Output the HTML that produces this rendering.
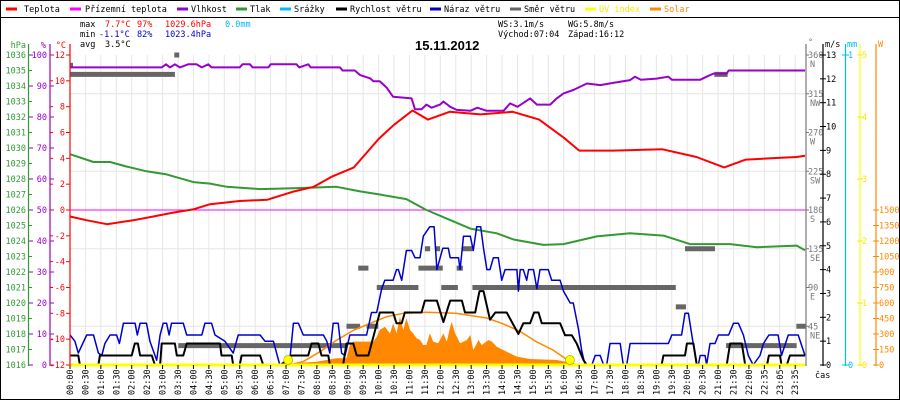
<!DOCTYPE html>
<html><head><meta charset="utf-8">
<style>
html,body{margin:0;padding:0;background:#fff;}
svg{display:block;font-family:"DejaVu Sans Mono","Liberation Mono",monospace;}
text{font-size:8.5px;}
</style></head>
<body>
<svg id="chart" width="900" height="400" viewBox="0 0 900 400" xmlns="http://www.w3.org/2000/svg">
<rect x="0.5" y="0.5" width="899" height="399" fill="#fff" stroke="#000"/>
<line x1="0" y1="17.5" x2="900" y2="17.5" stroke="#000"/>
<g id="legend"></g>
<g>
<text x="80" y="27" fill="#000">max</text>
<text x="105" y="27" fill="#f00">7.7°C</text>
<text x="137" y="27" fill="#f00">97%</text>
<text x="165" y="27" fill="#f00">1029.6hPa</text>
<text x="225" y="27" fill="#00b4ff">0.0mm</text>
<text x="80" y="37" fill="#000">min</text>
<text x="99" y="37" fill="#00c">-1.1°C</text>
<text x="137" y="37" fill="#00c">82%</text>
<text x="165" y="37" fill="#00c">1023.4hPa</text>
<text x="80" y="47" fill="#000">avg</text>
<text x="105" y="47" fill="#000">3.5°C</text>
<text x="498" y="27" fill="#000">WS:3.1m/s</text>
<text x="568" y="27" fill="#000">WG:5.8m/s</text>
<text x="498" y="37" fill="#000">Východ:07:04</text>
<text x="568" y="37" fill="#000">Západ:16:12</text>
</g>
<g id="grid"></g>
<g id="plot"></g>
<g id="axes"></g>
<text x="415" y="50" fill="#000" style="font-size:13px;font-weight:bold;font-family:'Liberation Sans',sans-serif">15.11.2012</text>
</svg>
<script>
// ---- data ----
const xLabels=["00:00","00:30","01:00","01:30","02:00","02:30","03:00","03:30","04:00","04:30","05:00","05:30","06:00","06:30","07:00","07:30","08:00","08:30","09:00","09:30","10:00","10:30","11:00","11:30","12:00","12:30","13:00","13:30","14:00","14:30","15:00","15:30","16:00","16:30","17:00","17:30","18:00","18:30","19:00","19:30","20:00","20:30","21:00","21:30","22:00","22:35","23:05","23:35"];
const tempH=[0,0.55,1.2,2.04,2.7,3.34,3.99,4.54,5.5,6.4,7.2,7.9,8.5,9.2,10.0,10.5,11.1,11.6,12.3,13.3,14.35,15.2,16.0,16.5,17.6,19.2,20.3,21.2,21.9,22.8,23.63,23.9];
const tempV=[-0.5,-0.8,-1.1,-0.8,-0.5,-0.2,0.05,0.45,0.7,0.8,1.4,1.8,2.6,3.3,5.5,6.6,7.7,7.0,7.6,7.4,7.6,7.0,5.6,4.6,4.6,4.7,4.1,3.3,3.9,4.0,4.1,4.2];
const humH=[0,2.97,3.11,3.24,3.4,3.56,3.83,4.1,4.27,4.48,4.59,5.5,5.59,5.83,5.92,6.43,6.5,7.34,7.43,7.72,7.8,8.75,8.83,9.23,9.4,9.72,9.83,10.04,10.26,10.47,11.07,11.18,11.39,11.55,11.72,11.99,12.1,12.32,12.53,12.97,13.2,13.5,14.05,14.26,14.5,14.91,15.13,15.56,15.77,15.99,16.31,16.75,17.18,17.6,18.15,18.31,18.5,19.01,19.39,19.5,20.42,20.63,20.85,21.28,21.34,23.9];
const humV=[96,96,97,96,97,96,97,97,96,97,96,96,97,97,96,96,97,97,96,97,96,96,95,95,93.5,92.5,91.5,91.5,89.5,86.5,86,82.5,82.5,84,83,84,85,83.3,82.3,82,83,82,82,84.4,83.3,86,84,84,86,87.6,88.7,90.8,90.3,91,91.9,93,92,92.4,93,92,92,93,94,94,95,95];
const presH=[0,0.76,1.3,1.84,2.48,3.13,4.0,4.54,5.08,6.16,7.24,8.64,9.4,10.04,10.9,11.55,11.67,12.32,12.97,13.83,14.37,15.34,15.99,17.07,18.15,19.23,20.09,21.39,22.3,23.63,23.9];
const presV=[1029.6,1029.1,1029.1,1028.8,1028.5,1028.3,1027.8,1027.7,1027.5,1027.35,1027.4,1027.5,1027.2,1027.0,1026.7,1026.0,1025.9,1025.35,1024.8,1024.5,1024.1,1023.75,1023.8,1024.3,1024.5,1024.35,1023.8,1023.8,1023.6,1023.7,1023.4];
const speedH=[0,0.27,0.32,0.92,0.97,2.0,2.1,2.2,2.27,2.65,2.75,2.92,2.97,3.4,3.46,3.67,3.78,4.86,4.91,5.24,5.29,5.5,5.56,6.16,6.26,6.86,7.18,7.72,7.83,8.05,8.15,8.37,8.42,8.85,8.96,9.18,9.29,9.67,10.04,10.47,10.58,10.75,10.85,11.39,11.5,11.89,12.1,12.32,12.7,12.8,13.13,13.27,13.4,13.61,13.78,14.15,14.53,14.69,14.91,15.04,15.18,15.29,15.88,16.04,16.26,16.42,16.64,16.75,19.17,19.23,19.93,19.99,20.2,20.31,21.28,21.39,21.77,21.88,22.67,22.73,23.09,23.14,23.31,23.41,23.9];
const speedV=[0.4,0.4,0,0,0.4,0.4,0.9,0.9,0.4,0.4,0,0,0.9,0.9,0.4,0.4,0.9,0.9,0.4,0.4,0,0,0.4,0.4,0,0,0.4,0.4,0.9,0.9,0.4,0.4,0,0,0.9,0.9,0.4,0.4,2.2,2.2,1.75,1.75,2.2,2.2,2.7,2.7,1.8,2.7,2.7,2.2,2.2,3.1,3.1,1.9,2.2,2.2,1.3,1.75,1.75,2.2,2.2,1.75,1.75,1.25,1.25,0.9,0.2,0,0,0.4,0.4,0.9,0.9,0,0,0.9,0.9,0,0,0.4,0.4,0,0,0.4,0.4];
const gustH=[0,0.16,0.27,0.54,0.76,0.92,1.03,1.13,1.3,1.51,1.6,1.73,2.11,2.18,2.27,2.48,2.59,2.81,2.92,3.02,3.13,3.21,3.29,3.67,3.78,4.27,4.37,4.59,4.7,5.02,5.29,5.45,6.16,6.32,6.59,6.8,7.13,7.24,7.4,7.56,8.21,8.32,8.42,8.53,8.69,8.8,8.91,9.07,9.61,9.77,9.94,10.1,10.2,10.47,10.58,10.64,10.75,10.9,11.07,11.18,11.34,11.45,11.66,11.8,11.89,12.08,12.26,12.32,12.59,12.64,12.75,12.97,13.07,13.18,13.31,13.4,13.51,13.61,13.72,13.88,13.99,14.1,14.48,14.53,14.59,14.69,14.8,14.86,15.02,15.13,15.23,15.5,15.61,15.88,15.99,16.21,16.31,16.48,16.58,16.69,16.91,17.02,17.18,17.29,17.39,17.5,17.83,17.93,18.04,18.15,19.39,19.5,19.82,19.93,20.04,20.15,20.31,20.36,20.42,20.58,20.63,20.74,20.9,21.01,21.34,21.5,21.66,21.82,21.98,22.16,22.42,22.55,22.73,23.03,23.14,23.36,23.68,23.9];
const gustV=[1.26,1.0,0.5,1.26,1.26,0.5,0.4,0.9,1.26,1.26,0.9,1.75,1.75,1.26,1.75,1.75,1.0,0.2,1.26,1.75,1.75,1.26,1.75,1.75,1.26,1.26,1.75,1.75,1.26,1.0,0.5,1.26,1.26,1.0,1.0,0,0.3,1.75,1.75,1.26,1.26,1.0,0.5,1.75,1.75,0.5,0.4,1.26,1.26,2.2,2.2,3.2,3.55,3.55,4.0,4.0,3.55,4.8,4.8,4.5,4.5,5.4,5.8,5.8,4.0,4.9,4.9,4.5,4.5,4.0,5.4,5.4,4.8,5.8,5.8,4.9,4.0,4.0,4.5,4.5,3.55,4.0,4.0,3.1,4.0,4.0,3.55,4.0,4.0,3.2,4.0,4.0,3.55,3.55,3.1,2.6,2.6,1.47,0.6,0,0,0.4,0.4,0,0,0.9,0.9,0,0,0.9,0.9,1.26,1.26,2.17,2.17,1.26,0,0,0.4,0.4,0,0.9,0.9,1.26,1.26,1.75,1.75,1.26,0.4,0,0.4,0.9,1.26,1.26,0.4,1.26,1.26,0.4];
const dirStart=[0,0,3.38,3.51,8.96,9.61,9.34,9.94,11.29,11.5,11.83,12.53,12.7,12.03,13.04,19.63,19.93,20.88,21.26,23.62];
const dirEnd=[3.4,0.09,3.54,8.96,9.4,9.99,9.67,11.29,12.08,11.67,11.99,12.73,13.04,12.57,19.63,19.96,20.9,21.31,23.63,24.0];
const dirDeg=[337.5,348,360,22.5,45,45,112.5,90,112.5,135,135,112.5,135,90,90,67.5,135,337.5,22.5,45];
const solarH=[7.07,7.24,7.99,8.64,8.96,9.07,9.18,9.83,9.94,10.04,10.2,10.37,10.47,10.58,10.69,10.8,10.9,11.02,11.12,11.23,11.34,11.45,11.55,11.66,11.77,11.93,12.1,12.21,12.32,12.37,12.48,12.64,12.86,12.97,13.07,13.24,13.34,13.56,13.67,13.83,14.15,14.48,14.91,15.77,16.21,16.42];
const solarV=[0,16,32,65,65,194,226,226,274,339,371,306,403,306,468,339,452,339,306,258,242,194,194,306,226,210,306,226,371,419,306,210,242,290,145,242,194,242,226,177,129,81,58,48,23,0];
const solMaxH=[7.07,7.55,8.1,8.65,9.2,9.72,10.27,10.8,11.56,12.5,13.5,14.0,14.6,15.1,15.65,16.2,16.4];
const solMaxV=[0,32,129,242,339,403,468,500,510,500,455,403,323,226,145,32,0];
const uvH=[0,23.9];
const uvV=[0,0];
const sunH=[7.07,16.2];
const hpaTicks=[1036,1035,1034,1033,1032,1031,1030,1029,1028,1027,1026,1025,1024,1023,1022,1021,1020,1019,1018,1017,1016];
const humTicks=[100,90,80,70,60,50,40,30,20,10,0];
const tempTicks=[12,10,8,6,4,2,0,-2,-4,-6,-8,-10,-12];
const dirTicks=[360,315,270,225,180,135,90,45];
const dirNames=["N","NW","W","SW","S","SE","E","NE"];
const msTicks=[13,12,11,10,9,8,7,6,5,4,3,2,1,0];
const uvTicks=[5,4,3,2,1,0];
const wTicks=[1500,1350,1200,1050,900,750,600,450,300,150,0];

// ---- scales ----
const X0=70, SLOT=15.43, Y0=365, Y1=55, XR=806;
function slotOf(h){
  if(h<=22) return h*2;
  const hs=[22,22.583,23.083,23.583,24.083];
  for(let i=0;i<4;i++){ if(h<=hs[i+1]) return 44+i+(h-hs[i])/(hs[i+1]-hs[i]); }
  return 48;
}
function xH(h){ return Math.min(XR, X0+slotOf(h)*SLOT); }
const yT=t=>210-t*(310/24);
const yP=p=>Y0-(p-1016)*15.5;
const yHum=p=>Y0-p*3.1;
const yW=v=>Y0-v*(310/13);
const yD=d=>Y0-d*(310/360);
const yS=w=>Y0-w*(155/1500);
const yUV=u=>Y0-u*62;

const NS="http://www.w3.org/2000/svg";
function mk(tag,attrs,parent){const e=document.createElementNS(NS,tag);for(const k in attrs)e.setAttribute(k,attrs[k]);parent.appendChild(e);return e;}
const grid=document.getElementById('grid'), plot=document.getElementById('plot'), axes=document.getElementById('axes'), legend=document.getElementById('legend');

// legend
const legItems=[["Teplota","#f00",6,24],["Přízemní teplota","#f0f",70,85],["Vlhkost","#90c",177,191],["Tlak","#393",236,250],["Srážky","#0bf",280,294],["Rychlost větru","#000",336,350],["Náraz větru","#00c",430,444],["Směr větru","#666",510,524],["UV index","#ff0",585,599],["Solar","#f80",650,664]];
legItems.forEach(it=>{
  const l=mk('line',{x1:it[2],y1:9,x2:it[2]+11,y2:9,stroke:it[1],'stroke-width':3},legend);
  
  
  const t=mk('text',{x:it[3],y:12,fill:it[0]==="UV index"?"#ee0":(it[0]==="Solar"?"#f80":"#000")},legend);
  t.textContent=it[0];
  
  
});

// grid
xLabels.forEach((lab,i)=>{
  const x=X0+i*SLOT;
  const g=mk('line',{x1:x,y1:Y1,x2:x,y2:Y0,stroke:'#e6e6e6'},grid);
  
  
  const tk=mk('line',{x1:x,y1:Y0,x2:x,y2:Y0+4,stroke:'#000'},axes);
  
  
  const t=mk('text',{x:0,y:0,transform:`translate(${x+3},${395}) rotate(-90)`,fill:'#000'},axes);
  t.textContent=lab;
  
  
});
[45,135,225,315].forEach(d=>{
  const g=mk('line',{x1:X0,y1:yD(d),x2:XR,y2:yD(d),stroke:'#e6e6e6'},grid);
  
  
});
const zl=mk('line',{x1:X0,y1:yT(0),x2:XR,y2:yT(0),stroke:'#f0f'},grid);



function pts(H,V,fy){return H.map((h,i)=>xH(h).toFixed(1)+","+fy(V[i]).toFixed(1)).join(" ");}

// solar area
const sa=mk('polygon',{points:xH(solarH[0])+","+Y0+" "+pts(solarH,solarV,yS)+" "+xH(solarH[solarH.length-1])+","+Y0,fill:'#f80'},plot);


// direction bars
dirDeg.forEach((d,i)=>{
  const r=mk('rect',{x:xH(dirStart[i]),y:yD(d)-2.5,width:Math.max(3,xH(dirEnd[i])-xH(dirStart[i])),height:5,fill:'#666'},plot);
  
  
});
const series=[
 [solMaxH,solMaxV,yS,'#f80',1.5,'solar-max-line'],
 [presH,presV,yP,'#393',2,'pressure-line'],
 [humH,humV,yHum,'#90c',2,'humidity-line'],
 [tempH,tempV,yT,'#f00',2,'temperature-line'],
 [gustH,gustV,yW,'#00c',1.5,'gust-line'],
 [speedH,speedV,yW,'#000',2,'wind-speed-line'],
 [uvH,uvV,yUV,'#ff0',3,'uv-line']
];
series.forEach(s=>{
  const p=mk('polyline',{points:pts(s[0],s[1],s[2]),fill:'none',stroke:s[3],'stroke-width':s[4],'stroke-linejoin':'round'},plot);
  
  
});
sunH.forEach(h=>{
  const c=mk('circle',{cx:xH(h),cy:Y0-5,r:4.5,fill:'#ff0',stroke:'#aa0','stroke-width':0.7},plot);
  
  
});

// axes
function axis(x,color,name){const l=mk('line',{x1:x,y1:44,x2:x,y2:Y0+1,stroke:color,'stroke-width':1.2},axes);}
function lab(txt,x,y,color,anchor,name){const t=mk('text',{x:x,y:y,fill:color,'text-anchor':anchor||'start'},axes);t.textContent=txt;return t;}
function tick(x1,x2,y,color){const l=mk('line',{x1:x1,y1:y,x2:x2,y2:y,stroke:color},axes);}
axis(28.5,'#393','pressure-axis'); axis(50,'#90c','humidity-axis'); axis(70,'#f00','temp-axis');
axis(806,'#777','direction-axis'); axis(823,'#000','wind-axis'); axis(845.5,'#0bf','rain-axis'); axis(860,'#ff0','uv-axis'); axis(876,'#f80','solar-axis');
lab('hPa',26,48,'#393','end','pressure-axis-title'); lab('%',46,48,'#90c','end','humidity-axis-title'); lab('°C',66,48,'#f00','end','temp-axis-title');
hpaTicks.forEach(v=>{const y=yP(v);tick(28.5,32,y,'#393');lab(String(v),26,y+3,'#393','end','pressure-tick-label');});
humTicks.forEach(v=>{const y=yHum(v);tick(29,33,y,'#90c');tick(50,54,y,'#90c');lab(String(v),47,y+3,'#90c','end','humidity-tick-label');});
tempTicks.forEach(v=>{const y=yT(v);tick(66,70,y,'#f00');tick(50,53,y,'#f00');lab(String(v),65,y+3,'#f00','end','temp-tick-label');});
lab('°',808,45,'#777','start','direction-axis-title');
dirTicks.forEach((v,i)=>{const y=yD(v);tick(806,809,y,'#777');lab(String(v),808,y+3,'#777','start','direction-tick-label');lab(dirNames[i],810,y+12,'#777','start','direction-name-label');});
lab('m/s',825,47,'#000','start','wind-axis-title');
msTicks.forEach(v=>{const y=yW(v);tick(820,826,y,'#000');lab(String(v),826,y+3,'#000','start','wind-tick-label');});
lab('mm',847,47,'#0bf','start','rain-axis-title');
[[1,Y1],[0,Y0]].forEach(a=>{tick(842,849,a[1],'#0bf');lab(String(a[0]),848,a[1]+3,'#0bf','start','rain-tick-label');});
uvTicks.forEach(v=>{const y=yUV(v);tick(857,863,y,'#ee0');lab(String(v),862,y+3,'#ee0','start','uv-tick-label');});
lab('W',878,47,'#f80','start','solar-axis-title');
wTicks.forEach(v=>{const y=yS(v);tick(873,879,y,'#f80');lab(String(v),879,y+3,'#f80','start','solar-tick-label');});
lab('čas',815,378,'#000','start','x-axis-title');
</script>
</body></html>
